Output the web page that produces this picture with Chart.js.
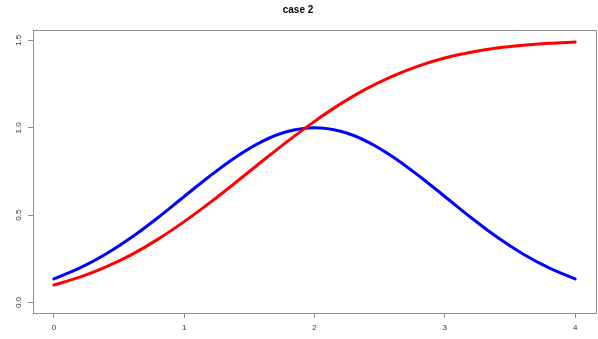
<!DOCTYPE html>
<html>
<head>
<meta charset="utf-8">
<script src="https://cdn.jsdelivr.net/npm/chart.js@4"></script>
<style>
  html, body { margin: 0; padding: 0; background: #fff; }
  #wrap { width: 598px; height: 339px; }
</style>
</head>
<body>
<div id="wrap"><canvas id="myChart" width="598" height="339"></canvas></div>
<script>
// ==================[Data]==================
const xValues = [0, 0.2, 0.4, 0.6, 0.8, 1, 1.2, 1.4, 1.6, 1.8, 2, 2.2, 2.4, 2.6, 2.8, 3, 3.2, 3.4, 3.6, 3.8, 4];

const redValues = [0.100, 0.145, 0.204, 0.276, 0.363, 0.463, 0.573, 0.690, 0.810, 0.927, 1.037,
    1.137, 1.224, 1.296, 1.355, 1.400, 1.433, 1.457, 1.473, 1.484, 1.491];

const blueValues = [0.135, 0.198, 0.278, 0.375, 0.487, 0.607, 0.726, 0.835, 0.923, 0.980, 1.000,
    0.980, 0.923, 0.835, 0.726, 0.607, 0.487, 0.375, 0.278, 0.198, 0.135];

const xTicks = [0, 1, 2, 3, 4];
const yTicks = [0, 0.5, 1, 1.5];

const toPoints = (ys) => xValues.map((x, i) => ({ x: x, y: ys[i] }));

// ==================[Box round the plot area]==================
const boxPlugin = {
    id: 'box',
    afterDraw(chart) {
        const a = chart.chartArea;
        const ctx = chart.ctx;
        ctx.save();
        ctx.strokeStyle = '#8c8c8c';
        ctx.lineWidth = 1;
        ctx.strokeRect(Math.round(a.left) + 0.5, Math.round(a.top) + 0.5,
            Math.round(a.right - a.left), Math.round(a.bottom - a.top));
        ctx.restore();
    }
};

const data = {
    datasets: [{
        label: 'red',
        data: toPoints(redValues),
        borderColor: '#ff0000',
        borderWidth: 3,
        order: 0
    }, {
        label: 'blue',
        data: toPoints(blueValues),
        borderColor: '#0000ff',
        borderWidth: 3,
        order: 1
    }]
};

const config = {
    type: 'line',
    data: data,
    options: {
        responsive: false,
        animation: false,
        layout: { padding: { left: 0, right: 2, top: 0, bottom: 0 } },
        elements: {
            point: { radius: 0 },
            line: { cubicInterpolationMode: 'monotone', borderCapStyle: 'round', borderJoinStyle: 'round' }
        },
        plugins: {
            legend: { display: false },
            tooltip: { enabled: false },
            title: {
                display: true,
                text: 'case 2',
                color: '#000',
                font: { family: '"Liberation Sans", Arial, sans-serif', size: 10, weight: 'bold', lineHeight: 1.2 },
                padding: { top: 4, bottom: 14 }
            }
        },
        scales: {
            x: {
                type: 'linear',
                min: -0.16,
                max: 4.16,
                afterBuildTicks: (s) => { s.ticks = xTicks.map(v => ({ value: v })); },
                afterFit: (s) => { s.height = 26; },
                grid: { drawOnChartArea: false, drawTicks: true, tickLength: 5, color: '#8c8c8c' },
                border: { display: true, color: '#8c8c8c' },
                ticks: {
                    color: '#333',
                    padding: 5,
                    maxRotation: 0,
                    font: { family: '"Liberation Sans", Arial, sans-serif', size: 8 },
                    callback: (v) => String(v)
                }
            },
            y: {
                type: 'linear',
                min: -0.06,
                max: 1.56,
                afterBuildTicks: (s) => { s.ticks = yTicks.map(v => ({ value: v })); },
                afterFit: (s) => { s.width = 33; },
                grid: { drawOnChartArea: false, drawTicks: true, tickLength: 5, color: '#8c8c8c' },
                border: { display: true, color: '#8c8c8c' },
                ticks: {
                    color: '#333',
                    padding: 4,
                    minRotation: 90,
                    maxRotation: 90,
                    crossAlign: 'center',
                    font: { family: '"Liberation Sans", Arial, sans-serif', size: 8 },
                    callback: (v) => v.toFixed(1)
                }
            }
        }
    },
    plugins: [boxPlugin]
};

const myChart = new Chart(document.getElementById('myChart'), config);
</script>
</body>
</html>
